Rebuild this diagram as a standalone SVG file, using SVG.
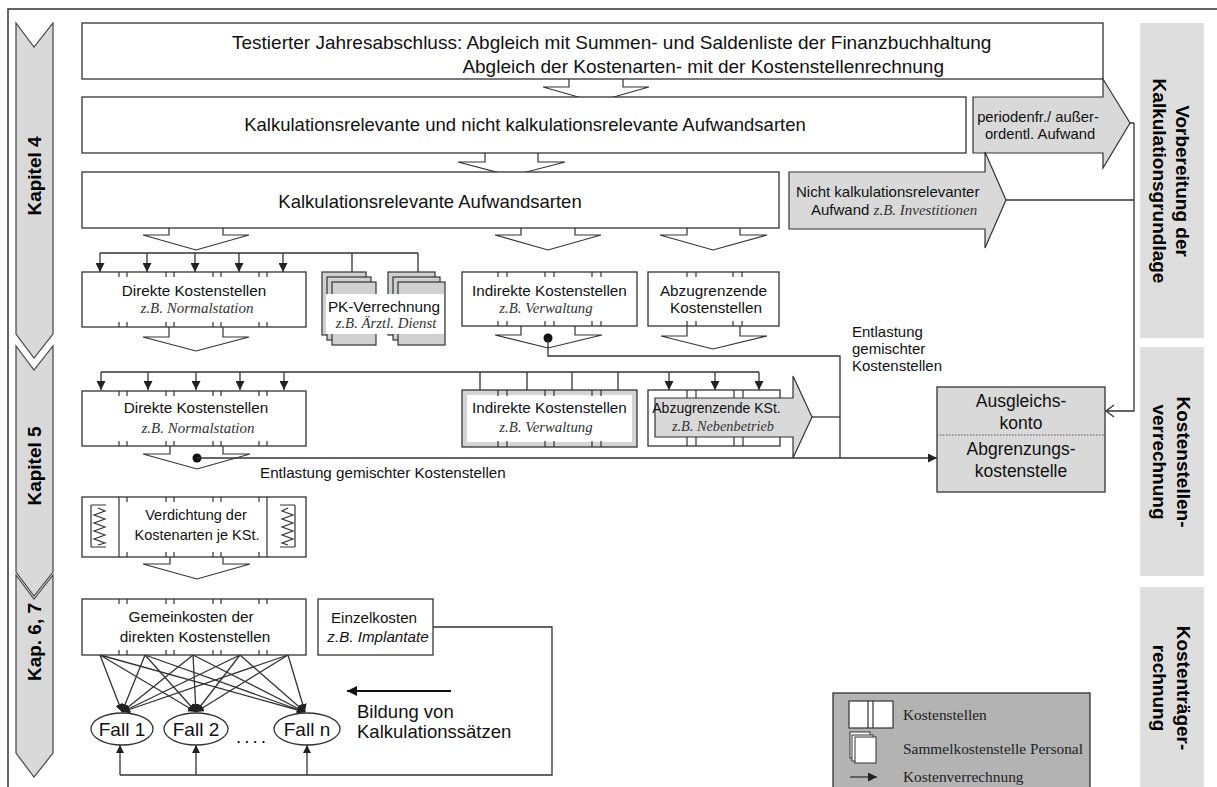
<svg xmlns="http://www.w3.org/2000/svg" width="1217" height="787" viewBox="0 0 1217 787">
<defs>
<style>
.bx{fill:#fff;stroke:#333;stroke-width:1.3}
.ln{fill:none;stroke:#333;stroke-width:1.3}
.tk{fill:none;stroke:#333;stroke-width:1.2}
.ha{fill:none;stroke:#333;stroke-width:1.2}
.ga{fill:#d9d9d9;stroke:#333;stroke-width:1.2}
.chev{fill:#d9d9d9;stroke:#444;stroke-width:1.2}
.col{fill:#dedede}
.s{font-family:"Liberation Sans",Arial,sans-serif;fill:#111}
.sb{font-family:"Liberation Sans",Arial,sans-serif;font-weight:bold;fill:#000}
.ti{font-family:"Liberation Serif","Times New Roman",serif;font-style:italic;fill:#333}
.tr{font-family:"Liberation Serif","Times New Roman",serif;fill:#222}
.m{text-anchor:middle}
</style>
<marker id="ah" viewBox="0 0 10 10" refX="10" refY="5" markerWidth="9" markerHeight="9" markerUnits="userSpaceOnUse" orient="auto"><path d="M0,0 L10,5 L0,10 z" fill="#222"/></marker>
<marker id="ahs" viewBox="0 0 10 10" refX="10" refY="5" markerWidth="8" markerHeight="8" markerUnits="userSpaceOnUse" orient="auto"><path d="M0,0 L10,5 L0,10 z" fill="#222"/></marker>
<marker id="ahb" viewBox="0 0 10 10" refX="10" refY="5" markerWidth="12" markerHeight="10" markerUnits="userSpaceOnUse" orient="auto"><path d="M0,0 L10,5 L0,10 z" fill="#111"/></marker>
</defs>
<rect width="1217" height="787" fill="#fff"/>
<path d="M8,787 V9 H1217" fill="none" stroke="#333" stroke-width="1.5"/>

<g id="chapters">
<polygon class="chev" points="16,23 34,47 53,23 53,334 34,358 16,334"/>
<polygon class="chev" points="16,346 34,370 53,346 53,572 34,596 16,572"/>
<polygon class="chev" points="16,575 34,599 53,575 53,753 34,777 16,753"/>
<text class="sb m" font-size="19" transform="translate(41,176) rotate(-90)">Kapitel 4</text>
<text class="sb m" font-size="19" transform="translate(41,466) rotate(-90)">Kapitel 5</text>
<text class="sb m" font-size="19" transform="translate(41,642) rotate(-90)">Kap. 6, 7</text>
</g>

<g id="phases">
<rect class="col" x="1140" y="23" width="64" height="315"/>
<rect class="col" x="1140" y="347" width="64" height="229"/>
<rect class="col" x="1140" y="587" width="64" height="200"/>
<text class="sb m" font-size="19" transform="translate(1176,181) rotate(90)">Vorbereitung der</text>
<text class="sb m" font-size="19" transform="translate(1153,181) rotate(90)">Kalkulationsgrundlage</text>
<text class="sb m" font-size="19" transform="translate(1177,462) rotate(90)">Kostenstellen-</text>
<text class="sb m" font-size="19" transform="translate(1153,462) rotate(90)">verrechnung</text>
<text class="sb m" font-size="19" transform="translate(1177,688) rotate(90)">Kostenträger-</text>
<text class="sb m" font-size="19" transform="translate(1153,688) rotate(90)">rechnung</text>
</g>

<g id="connectors">
<polyline class="ha" points="569,79 569,87 543,87 596,102 649,87 623,87 623,79"/>
<polyline class="ha" points="485,153 485,162 458,162 511,176 565,162 538,162 538,153"/>
<polyline class="ha" points="169,228 169,235 143,235 196,250 249,235 223,235 223,228"/>
<polyline class="ha" points="521,228 521,235 495,235 548,250 601,235 575,235 575,228"/>
<polyline class="ha" points="687,228 687,235 660,235 713,250 767,235 740,235 740,228"/>
<polyline class="ha" points="169,327 169,337 143,337 196,351 249,337 223,337 223,327"/>
<polyline class="ha" points="521,326 521,335 495,335 548,348 602,335 575,335 575,326"/>
<polyline class="ha" points="687,326 687,336 661,336 713,349 767,336 740,336 740,326"/>
<polyline class="ha" points="170,446 170,454 143,454 197,469 250,454 223,454 223,446"/>
<polyline class="ha" points="170,557 170,564 143,564 197,579 250,564 223,564 223,557"/>
<path class="ln" d="M100,253 H418 M352,253 V272 M418,253 V272"/>
<path class="ln" marker-end="url(#ah)" d="M100,253 V272"/>
<path class="ln" marker-end="url(#ah)" d="M147,253 V272"/>
<path class="ln" marker-end="url(#ah)" d="M195,253 V272"/>
<path class="ln" marker-end="url(#ah)" d="M239,253 V272"/>
<path class="ln" marker-end="url(#ah)" d="M283,253 V272"/>
<path class="ln" d="M101,372 H759 M480,372 V390 M527,372 V390 M572,372 V390 M618,372 V390"/>
<path class="ln" marker-end="url(#ah)" d="M101,372 V390"/>
<path class="ln" marker-end="url(#ah)" d="M148,372 V390"/>
<path class="ln" marker-end="url(#ah)" d="M196,372 V390"/>
<path class="ln" marker-end="url(#ah)" d="M240,372 V390"/>
<path class="ln" marker-end="url(#ah)" d="M284,372 V390"/>
<path class="ln" marker-end="url(#ah)" d="M669,372 V390"/>
<path class="ln" marker-end="url(#ah)" d="M715,372 V390"/>
<path class="ln" marker-end="url(#ah)" d="M759,372 V390"/>
<circle cx="548" cy="338" r="4.5" fill="#111"/>
<circle cx="197" cy="458" r="4.5" fill="#111"/>
<path class="ln" d="M548,338 V356 H840 V458"/>
<path class="ln" d="M812,417 H840"/>
<path class="ln" marker-end="url(#ah)" d="M197,458 H937"/>
<path class="ln" d="M1130,123 H1134 M1006,200 H1134 M1134,123 V411 H1106"/>
<polyline class="ln" points="1114,405 1106,411 1114,417"/>
<g class="ln" marker-end="url(#ahs)">
<path d="M100,655 L122,712"/><path d="M100,655 L196,712"/><path d="M100,655 L305,712"/>
<path d="M145,655 L122,712"/><path d="M145,655 L196,712"/><path d="M145,655 L305,712"/>
<path d="M193,655 L122,712"/><path d="M193,655 L196,712"/><path d="M193,655 L305,712"/>
<path d="M240,655 L122,712"/><path d="M240,655 L196,712"/><path d="M240,655 L305,712"/>
<path d="M288,655 L122,712"/><path d="M288,655 L196,712"/><path d="M288,655 L305,712"/>
</g>
<path class="ln" d="M433,627 H552 V775 H120"/>
<path class="ln" marker-end="url(#ahs)" d="M120,775 V745"/>
<path class="ln" marker-end="url(#ahs)" d="M196,775 V745"/>
<path class="ln" marker-end="url(#ahs)" d="M307,775 V745"/>
<path fill="none" stroke="#111" stroke-width="2" marker-end="url(#ahb)" d="M451,691 H347"/>
</g>

<g id="jahresabschluss">
<rect class="bx" x="82" y="23" width="1021" height="56"/>
<text class="s" font-size="19" x="232" y="49">Testierter Jahresabschluss: Abgleich mit Summen- und Saldenliste der Finanzbuchhaltung</text>
<text class="s" font-size="19" x="944" y="73" text-anchor="end">Abgleich der Kostenarten- mit der Kostenstellenrechnung</text>
</g>
<g id="aufwandsarten">
<rect class="bx" x="82" y="97" width="884" height="56"/>
<text class="s m" font-size="18.5" x="525" y="131">Kalkulationsrelevante und nicht kalkulationsrelevante Aufwandsarten</text>
</g>
<g id="kalk-aufwandsarten">
<rect class="bx" x="82" y="172" width="697" height="56"/>
<text class="s m" font-size="18.5" x="430" y="208">Kalkulationsrelevante Aufwandsarten</text>
</g>
<g id="periodenfremd">
<polygon class="ga" points="973,97 1103,97 1103,79 1130,123 1103,168 1103,153 973,153"/>
<text class="s m" font-size="14.8" x="1038" y="122">periodenfr./ außer-</text>
<text class="s m" font-size="14.8" x="1040" y="139">ordentl. Aufwand</text>
</g>
<g id="nicht-kalk">
<polygon class="ga" points="789,172 985,172 985,152 1006,200 985,248 985,229 789,229"/>
<text class="s" font-size="15" x="796" y="197">Nicht kalkulationsrelevanter</text>
<text font-size="15" x="811" y="215"><tspan class="s">Aufwand </tspan><tspan class="ti">z.B. Investitionen</tspan></text>
</g>

<g id="direkte-1">
<rect class="bx" x="82" y="272" width="224" height="55"/>
<path class="tk" d="M119,272v5M127,272v5M166,272v5M174,272v5M213,272v5M221,272v5M259,272v5M267,272v5M119,322v5M127,322v5M166,322v5M174,322v5M213,322v5M221,322v5M259,322v5M267,322v5"/>
<text class="s m" font-size="15.3" x="194" y="296">Direkte Kostenstellen</text>
<text class="ti m" font-size="15" x="197" y="313">z.B. Normalstation</text>
</g>
<g id="pk-verrechnung">
<rect x="322" y="272" width="44" height="63" fill="#d0d0d0" stroke="#333" stroke-width="1.2"/>
<rect x="327" y="277" width="44" height="63" fill="#d0d0d0" stroke="#333" stroke-width="1.2"/>
<rect x="332" y="282" width="44" height="63" fill="#d0d0d0" stroke="#333" stroke-width="1.2"/>
<rect x="388" y="272" width="47" height="63" fill="#d0d0d0" stroke="#333" stroke-width="1.2"/>
<rect x="393" y="277" width="47" height="63" fill="#d0d0d0" stroke="#333" stroke-width="1.2"/>
<rect x="398" y="282" width="47" height="63" fill="#d0d0d0" stroke="#333" stroke-width="1.2"/>
<rect x="326" y="294" width="118" height="40" fill="#fff"/>
<text class="s m" font-size="15.3" x="384" y="312">PK-Verrechnung</text>
<text class="ti m" font-size="14.8" x="386" y="328">z.B. Ärztl. Dienst</text>
</g>
<g id="indirekte-1">
<rect class="bx" x="462" y="272" width="175" height="54"/>
<path class="tk" d="M498,272v5M507,272v5M545,272v5M554,272v5M592,272v5M601,272v5M498,321v5M507,321v5M545,321v5M554,321v5M592,321v5M601,321v5"/>
<text class="s m" font-size="15.3" x="549.5" y="296">Indirekte Kostenstellen</text>
<text class="ti m" font-size="14.8" x="546" y="313">z.B. Verwaltung</text>
</g>
<g id="abzugrenzende-1">
<rect class="bx" x="648" y="272" width="131" height="54"/>
<path class="tk" d="M687,272v5M696,272v5M733,272v5M742,272v5M687,321v5M696,321v5M733,321v5M742,321v5"/>
<text class="s m" font-size="15.3" x="713.5" y="296">Abzugrenzende</text>
<text class="s m" font-size="15.3" x="716" y="313">Kostenstellen</text>
</g>
<g id="entlastung-label">
<text class="s" font-size="15" x="852" y="337">Entlastung</text>
<text class="s" font-size="15" x="852" y="354">gemischter</text>
<text class="s" font-size="15" x="852" y="371">Kostenstellen</text>
</g>

<g id="direkte-2">
<rect class="bx" x="82" y="391" width="224" height="55"/>
<path class="tk" d="M119,391v5M127,391v5M166,391v5M174,391v5M213,391v5M221,391v5M259,391v5M267,391v5M119,441v5M127,441v5M166,441v5M174,441v5M213,441v5M221,441v5M259,441v5M267,441v5"/>
<text class="s m" font-size="15.3" x="196" y="413">Direkte Kostenstellen</text>
<text class="ti m" font-size="15" x="198" y="433">z.B. Normalstation</text>
</g>
<g id="indirekte-2">
<rect x="462" y="390" width="175" height="57" fill="#d4d4d4" stroke="#333" stroke-width="1.3"/>
<rect x="467" y="395" width="165" height="47" fill="#fff"/>
<path class="tk" d="M498,390v6M507,390v6M545,390v6M554,390v6M592,390v6M601,390v6M498,441v6M507,441v6M545,441v6M554,441v6M592,441v6M601,441v6"/>
<text class="s m" font-size="15.3" x="549.5" y="413">Indirekte Kostenstellen</text>
<text class="ti m" font-size="14.8" x="546" y="432">z.B. Verwaltung</text>
</g>
<g id="abzugrenzende-2">
<rect class="bx" x="648" y="390" width="132" height="56"/>
<path class="tk" d="M687,390v56M696,390v56M734,390v56M743,390v56"/>
<polygon class="ga" points="655,398 793,398 793,376 812,417 793,458 793,437 655,437"/>
<text class="s m" font-size="14" x="716.5" y="413">Abzugrenzende KSt.</text>
<text class="ti m" font-size="14.3" x="723" y="431">z.B. Nebenbetrieb</text>
</g>
<g id="entlastung-text">
<text class="s" font-size="15.2" x="260" y="478">Entlastung gemischter Kostenstellen</text>
</g>
<g id="ausgleichskonto">
<rect x="937" y="387" width="168" height="105" fill="#d9d9d9" stroke="#333" stroke-width="1.3"/>
<line x1="937" y1="435" x2="1105" y2="435" stroke="#555" stroke-width="1" stroke-dasharray="1.5,1.5"/>
<text class="s m" font-size="17.5" x="1021" y="407">Ausgleichs-</text>
<text class="s m" font-size="17.5" x="1021" y="429">konto</text>
<text class="s m" font-size="17.5" x="1021" y="455">Abgrenzungs-</text>
<text class="s m" font-size="17.5" x="1021" y="477">kostenstelle</text>
</g>

<g id="verdichtung">
<rect class="bx" x="82" y="497" width="224" height="60"/>
<path class="tk" d="M119,497V557M267,497V557M127,497v5M166,497v5M174,497v5M213,497v5M221,497v5M259,497v5M127,552v5M166,552v5M174,552v5M213,552v5M221,552v5M259,552v5"/>
<path class="tk" d="M91,505V547M91,505H106M91,547H106"/>
<polyline class="tk" points="98,508 105,511 94,515 105,519 94,523 105,527 94,531 105,535 94,539 105,543 98,545"/>
<path class="tk" d="M295,505V547M280,505H295M280,547H295"/>
<polyline class="tk" points="288,508 282,511 293,515 282,519 293,523 282,527 293,531 282,535 293,539 282,543 288,545"/>
<text class="s m" font-size="14.5" x="196" y="520">Verdichtung der</text>
<text class="s m" font-size="14.5" x="197" y="540">Kostenarten je KSt.</text>
</g>
<g id="gemeinkosten">
<rect class="bx" x="82" y="599" width="224" height="56"/>
<path class="tk" d="M119,599v5M127,599v5M166,599v5M174,599v5M213,599v5M221,599v5M259,599v5M267,599v5M119,650v5M127,650v5M166,650v5M174,650v5M213,650v5M221,650v5M259,650v5M267,650v5"/>
<text class="s m" font-size="15.3" x="191" y="622">Gemeinkosten der</text>
<text class="s m" font-size="15.3" x="195" y="642">direkten Kostenstellen</text>
</g>
<g id="einzelkosten">
<rect class="bx" x="318" y="599" width="115" height="56"/>
<text class="s m" font-size="15.2" x="374" y="623">Einzelkosten</text>
<text class="s m" font-size="15.2" font-style="italic" x="378" y="642">z.B. Implantate</text>
</g>
<g id="fall-1">
<ellipse class="bx" cx="122" cy="729" rx="31" ry="16"/>
<text class="s m" font-size="19" x="122" y="736">Fall 1</text>
</g>
<g id="fall-2">
<ellipse class="bx" cx="196" cy="729" rx="32" ry="16"/>
<text class="s m" font-size="19" x="196" y="736">Fall 2</text>
</g>
<g id="fall-n">
<ellipse class="bx" cx="307" cy="729" rx="33" ry="16"/>
<text class="s m" font-size="19" x="307" y="736">Fall n</text>
</g>
<text class="s" font-size="19" x="236" y="743" letter-spacing="3">....</text>
<g id="bildung">
<text class="s" font-size="18.5" x="357" y="718">Bildung von</text>
<text class="s" font-size="18.5" x="357" y="738">Kalkulationssätzen</text>
</g>

<g id="legend">
<rect x="833" y="693" width="257" height="110" fill="#b3b3b3" stroke="#333" stroke-width="1.3"/>
<rect x="849" y="701" width="44" height="27" fill="#fff" stroke="#333" stroke-width="1.2"/>
<path class="tk" d="M868,701V728M873,701V728"/>
<rect x="850" y="732" width="20" height="26" fill="#fff" stroke="#333" stroke-width="1"/>
<rect x="852" y="735" width="21" height="26" fill="#fff" stroke="#333" stroke-width="1"/>
<rect x="855" y="737" width="21" height="26" fill="#fff" stroke="#333" stroke-width="1"/>
<path class="ln" marker-end="url(#ah)" d="M850,777 H877"/>
<text class="tr" font-size="15.4" x="903" y="720">Kostenstellen</text>
<text class="tr" font-size="15.4" x="903" y="754">Sammelkostenstelle Personal</text>
<text class="tr" font-size="15.4" x="903" y="782">Kostenverrechnung</text>
</g>
</svg>
